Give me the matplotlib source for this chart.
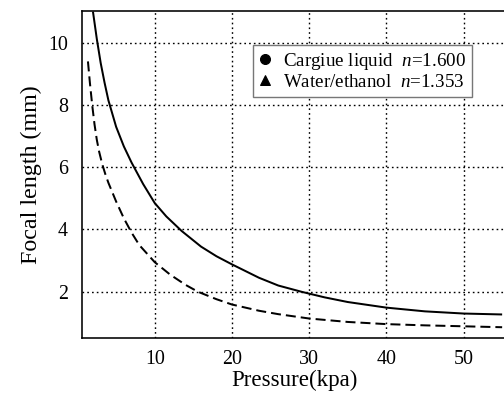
import matplotlib
matplotlib.use("Agg")
import matplotlib.pyplot as plt
from matplotlib.lines import Line2D

plt.rcParams['font.family'] = ['Liberation Serif', 'DejaVu Serif']
plt.rcParams['mathtext.fontset'] = 'custom'
plt.rcParams['mathtext.rm'] = 'Liberation Serif'
plt.rcParams['mathtext.it'] = 'Liberation Serif:italic'

# Cargiue liquid n=1.600 (solid)
solid_p = [2.0, 2.5, 3.0, 3.5, 4.0, 5.0, 6.0, 7.0, 8.5, 10, 11.5, 13.5, 16, 18, 20,
           23.5, 26, 29, 32, 35, 40, 45, 50, 55]
solid_f = [11.0, 10.12, 9.35, 8.72, 8.15, 7.3, 6.67, 6.15, 5.46, 4.85, 4.42, 3.95,
           3.45, 3.14, 2.88, 2.45, 2.2, 2.0, 1.82, 1.67, 1.49, 1.37, 1.30, 1.27]

# Water/ethanol n=1.353 (dashed)
dash_p = [1.35, 1.6, 1.9, 2.2, 2.5, 2.8, 3.2, 3.6, 4.0, 5.0, 6.0, 7.0, 8.0, 10, 12,
          14, 15.6, 18, 20, 23.5, 26, 30, 35, 40, 45, 50, 55]
dash_f = [9.4, 8.72, 8.0, 7.38, 6.88, 6.5, 6.1, 5.78, 5.5, 4.9, 4.36, 3.9, 3.5, 2.95,
          2.55, 2.22, 2.0, 1.76, 1.59, 1.39, 1.28, 1.14, 1.03, 0.96, 0.92, 0.89, 0.86]

x_ticks = [10, 20, 30, 40, 50]
y_ticks = [2, 4, 6, 8, 10]
legend_labels = ['Cargiue liquid  $n$=1.600', 'Water/ethanol  $n$=1.353']

fig = plt.figure(figsize=(7, 5.5), dpi=72)
ax = fig.add_axes([82/504, 1-337.5/396, 424/504, (337.5-11)/396])

ax.plot(solid_p, solid_f, color='black', lw=2, solid_capstyle='butt')
ax.plot(dash_p, dash_f, color='black', lw=2, linestyle=(0, (5, 2.5)))

ax.set_xlim(0.58, 55.5)
ax.set_ylim(0.53, 11.02)
ax.set_xticks(x_ticks)
ax.set_yticks(y_ticks)
ax.grid(True, color='black', linestyle=(0, (1.2, 2.2)), linewidth=1.4)
ax.tick_params(length=0, labelsize=20)
ax.tick_params(axis='x', pad=12)
ax.tick_params(axis='y', pad=14)
for s in ['left', 'top', 'bottom']:
    ax.spines[s].set_linewidth(1.6)
ax.spines['right'].set_visible(False)

ax.set_xlabel('Pressure(kpa)', fontsize=23, labelpad=1)
ax.set_ylabel('Focal length (mm)', fontsize=24, labelpad=6)

handles = [Line2D([], [], marker='o', color='black', linestyle='None', markersize=10),
           Line2D([], [], marker='^', color='black', linestyle='None', markersize=10)]
leg = ax.legend(handles, legend_labels, loc='upper left',
                bbox_to_anchor=(253/504, 1-45/396), bbox_transform=fig.transFigure,
                fancybox=False, framealpha=1, edgecolor='#777777', fontsize=19,
                handlelength=0.7, handletextpad=0.6, borderpad=0.3, labelspacing=0.1,
                borderaxespad=0)
leg.get_frame().set_linewidth(1.4)

fig.savefig('out.png', dpi=72)
